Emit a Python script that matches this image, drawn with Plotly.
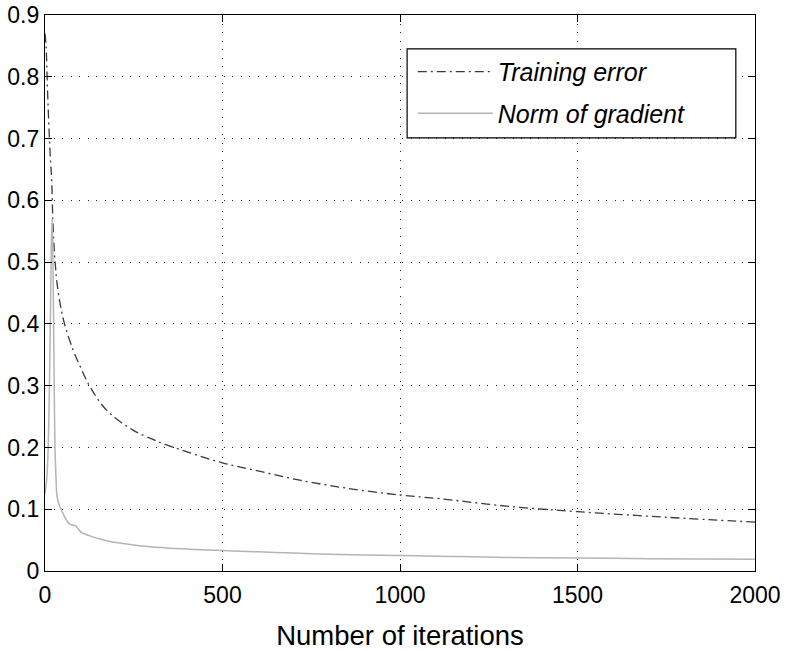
import plotly.graph_objects as go

# training error curve
err_iter = [0, 3, 7, 11, 15, 19, 22, 26, 30, 33, 42, 55, 79, 100, 127, 174, 248,
            304, 338, 400, 500, 600, 718, 850, 1000, 1113, 1300, 1500, 1750, 2000]
err_val = [0.87, 0.85, 0.78, 0.72, 0.67, 0.63, 0.57, 0.52, 0.49, 0.47, 0.435, 0.40,
           0.358, 0.33, 0.298, 0.26, 0.228, 0.213, 0.205, 0.193, 0.175, 0.162, 0.147,
           0.134, 0.123, 0.117, 0.105, 0.096, 0.087, 0.079]

# norm of gradient curve
grad_iter = [0, 5, 9, 12, 15, 18, 20, 22, 24, 26, 28, 31, 33, 37, 42, 47, 55, 62,
             70, 80, 87, 95, 103, 130, 160, 190, 240, 282, 350, 420, 500, 600, 700,
             800, 1000, 1100, 1300, 1500, 1700, 2000]
grad_val = [0.125, 0.15, 0.20, 0.28, 0.40, 0.53, 0.57, 0.52, 0.42, 0.30, 0.20, 0.15,
            0.126, 0.112, 0.104, 0.098, 0.088, 0.081, 0.076, 0.074, 0.073, 0.067,
            0.062, 0.056, 0.051, 0.047, 0.043, 0.040, 0.037, 0.035, 0.033, 0.031,
            0.029, 0.027, 0.025, 0.024, 0.022, 0.021, 0.020, 0.019]

fig = go.Figure()
fig.add_trace(go.Scatter(x=err_iter, y=err_val, mode="lines", name="Training error",
                         line=dict(color="#3a3a3a", width=1.3, dash="9px,4px,2px,4px", shape="spline"),
                         legendgroup="a"))
fig.add_trace(go.Scatter(x=grad_iter, y=grad_val, mode="lines", name="Norm of gradient",
                         line=dict(color="#b4b4b4", width=1.5, shape="spline", smoothing=0.6),
                         legendgroup="b"))

axis_common = dict(showline=True, linecolor="black", linewidth=1.2, mirror="ticks",
                   ticks="inside", ticklen=7, tickcolor="black", automargin=False,
                   ticklabeloverflow="allow",
                   showgrid=True, gridcolor="#222222", griddash="1px,7.5px", gridwidth=1,
                   zeroline=False, tickfont=dict(size=23, color="black"))

# legend frame drawn as a box so it can be wider than the text
fig.add_shape(type="rect", xref="paper", yref="paper",
              x0=0.510, x1=0.973, y0=0.779, y1=0.939,
              line=dict(color="black", width=1.2), fillcolor="white", layer="above")

fig.update_layout(
    width=786, height=651,
    margin=dict(l=45, r=31, t=15, b=80),
    paper_bgcolor="white", plot_bgcolor="white",
    font=dict(family="Liberation Sans, Arial, sans-serif", color="black"),
    showlegend=True,
    legend=dict(x=0.518, y=0.939, xanchor="left", yanchor="top",
                bgcolor="rgba(0,0,0,0)", borderwidth=0,
                font=dict(size=25, style="italic"), itemwidth=75,
                tracegroupgap=6, traceorder="grouped"),
)
fig.update_xaxes(range=[0, 2000], dtick=500, tick0=0, ticklabelstandoff=3,
                 title=dict(text="Number of iterations", font=dict(size=27.5), standoff=26),
                 **axis_common)
fig.update_yaxes(range=[0, 0.9], dtick=0.1, tick0=0, **axis_common)

# drop the default 8px body margin so the figure fills the window exactly
fig.write_html("out.html", config={"displayModeBar": False},
               post_script="document.body.style.margin='0';")
